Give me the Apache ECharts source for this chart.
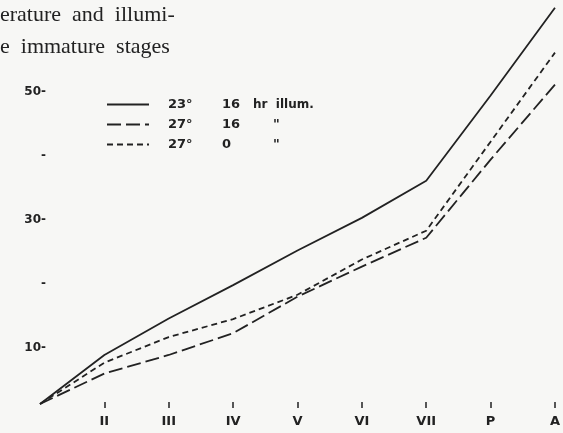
<!DOCTYPE html>
<html>
<head>
<meta charset="utf-8">
<script src="https://cdn.jsdelivr.net/npm/echarts@6/dist/echarts.min.js"></script>
<style>
  html, body { margin: 0; padding: 0; background: #f7f7f5; }
  #chart { width: 563px; height: 433px; }
</style>
</head>
<body>
<div id="chart"></div>
<script>
// Developmental stages (first instar start is unlabelled)
const stages = ['I', 'II', 'III', 'IV', 'V', 'VI', 'VII', 'P', 'A'];

// Cumulative days to reach each stage
const t23_16hr = [1.25, 8.9, 14.6, 19.8, 25.2, 30.3, 36.1, 49.4, 63.1];
const t27_16hr = [1.25, 6.0, 8.9, 12.3, 18.0, 22.7, 27.2, 39.4, 51.1];
const t27_0hr  = [1.25, 7.7, 11.7, 14.5, 18.3, 23.8, 28.3, 42.2, 56.1];

// Legend entries: temperature, photoperiod, remainder
const seriesNames = ['23°  16 hr illum.', '27°  16 "', '27°  0 "'];
const legendParts = [
  ['23°', '16', 'u', 'hr  illum.'],
  ['27°', '16', 'd', '"'],
  ['27°', '0', 'd', '"']
];

// y-axis labelled ticks
const yLabelled = [10, 30, 50];
const yMinor = [20, 40];

const ink = '#222222';
const sans = '"DejaVu Sans", "Liberation Sans", sans-serif';
const serif = '"Liberation Serif", "DejaVu Serif", serif';

const chart = echarts.init(document.getElementById('chart'), null, { renderer: 'canvas' });

const lineSeries = (name, data, dash) => ({
  name: name,
  type: 'line',
  data: data,
  symbol: 'none',
  showSymbol: false,
  lineStyle: { color: ink, width: 1.8, type: dash },
  itemStyle: { color: ink },
  silent: true,
  animation: false
});

const legendFont = { fontFamily: sans, fontWeight: 'bold', fontSize: 13, color: ink };

chart.setOption({
  backgroundColor: '#f7f7f5',
  animation: false,
  grid: { left: 40, right: 3, top: 2, bottom: 21 },
  graphic: [
    { type: 'text', left: 0, top: 4,
      style: { text: 'erature  and  illumi-', font: '22px ' + serif, fill: ink } },
    { type: 'text', left: 0, top: 36,
      style: { text: 'e  immature  stages', font: '22px ' + serif, fill: ink } }
  ],
  legend: {
    orient: 'vertical',
    left: 101,
    top: 93,
    itemWidth: 42,
    itemHeight: 14,
    itemGap: 7,
    data: seriesNames,
    itemStyle: { color: 'rgba(0,0,0,0)', borderWidth: 0 },
    formatter: function (name) {
      const p = legendParts[seriesNames.indexOf(name)];
      return '{t|' + p[0] + '}{h|' + p[1] + '}{' + p[2] + '|' + p[3] + '}';
    },
    textStyle: {
      color: ink,
      rich: {
        t: Object.assign({ width: 54, padding: [0, 0, 0, 14] }, legendFont),
        h: Object.assign({ width: 31 }, legendFont),
        u: Object.assign({}, legendFont, { fontSize: 12 }),
        d: Object.assign({ padding: [0, 0, 0, 20] }, legendFont)
      }
    }
  },
  xAxis: {
    type: 'category',
    data: stages,
    boundaryGap: false,
    offset: -10,
    axisLine: { show: false },
    axisTick: {
      show: true,
      length: 6,
      interval: function (i) { return i > 0; },
      lineStyle: { color: ink, width: 1.5 }
    },
    axisLabel: {
      interval: function (i) { return i > 0; },
      margin: 13,
      color: ink,
      fontFamily: sans,
      fontWeight: 'bold',
      fontSize: 13
    },
    splitLine: { show: false }
  },
  yAxis: {
    type: 'value',
    min: 0,
    max: 64,
    interval: 10,
    offset: -6,
    axisLine: { show: false },
    axisTick: { show: false },
    splitLine: { show: false },
    axisLabel: {
      margin: 0,
      color: ink,
      fontFamily: sans,
      fontWeight: 'bold',
      fontSize: 12,
      showMaxLabel: false,
      formatter: function (v) {
        if (yLabelled.indexOf(v) >= 0) return v + '-';
        if (yMinor.indexOf(v) >= 0) return '-';
        return '';
      }
    }
  },
  series: [
    lineSeries(seriesNames[0], t23_16hr, 'solid'),
    lineSeries(seriesNames[1], t27_16hr, [14, 5]),
    lineSeries(seriesNames[2], t27_0hr, [6, 4])
  ]
});
</script>
</body>
</html>
